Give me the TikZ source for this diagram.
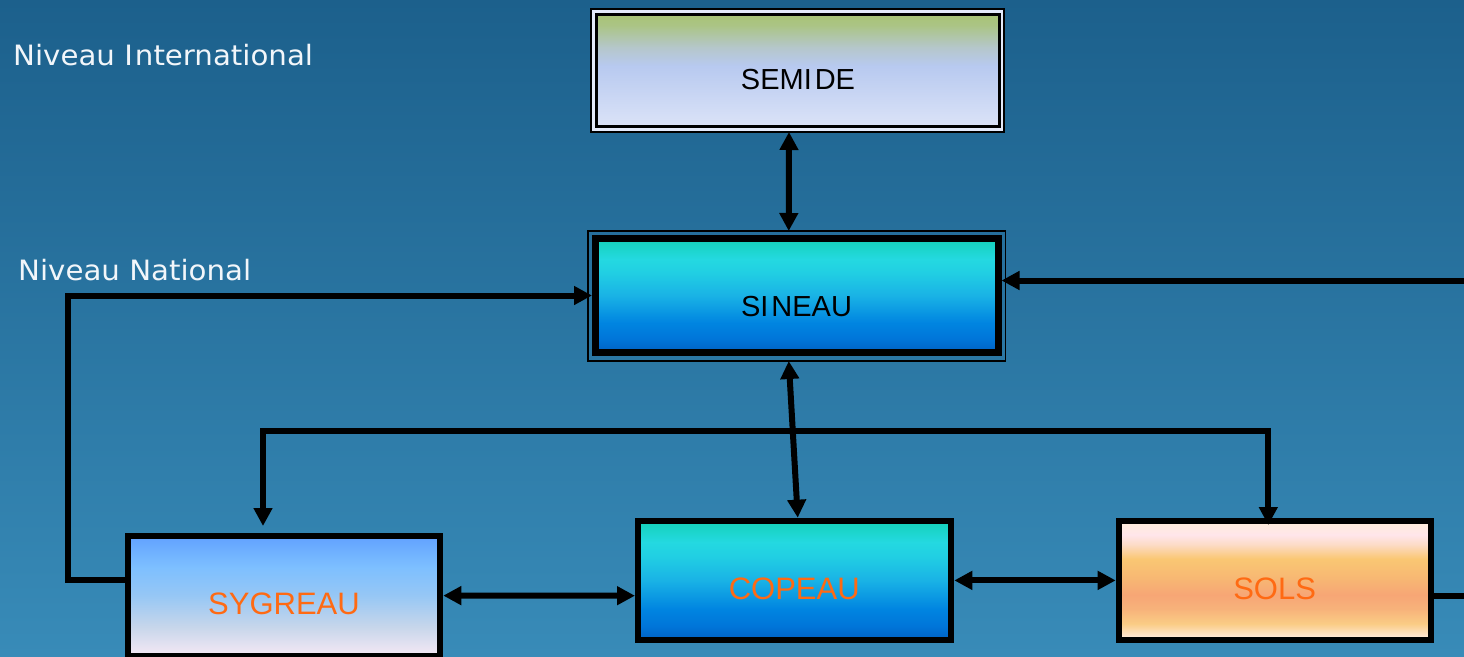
\documentclass[tikz,border=0pt]{standalone}
\usepackage{fontspec}
\setmainfont{Liberation Sans}
\newfontfamily\nivfont[FakeStretch=1.045]{DejaVu Sans}
\usetikzlibrary{arrows.meta}

\pgfdeclareverticalshading{blueshade}{100bp}{rgb(0bp)=(0,0.38,0.77); rgb(25bp)=(0,0.38,0.77); rgb(31bp)=(0,0.46,0.85); rgb(38bp)=(0,0.52,0.88); rgb(50bp)=(0.1,0.7,0.9); rgb(60bp)=(0.13,0.81,0.89); rgb(66bp)=(0.14,0.85,0.88); rgb(75bp)=(0.08,0.82,0.72); rgb(100bp)=(0.08,0.82,0.72)}
\pgfdeclareverticalshading{semideshade}{100bp}{rgb(0bp)=(0.86,0.89,0.97); rgb(25bp)=(0.86,0.89,0.97); rgb(52bp)=(0.72,0.79,0.94); rgb(60bp)=(0.71,0.78,0.8); rgb(70bp)=(0.67,0.77,0.52); rgb(75bp)=(0.66,0.77,0.46); rgb(100bp)=(0.66,0.77,0.46)}
\pgfdeclareverticalshading{sygshade}{100bp}{rgb(0bp)=(0.96,0.91,0.96); rgb(25bp)=(0.96,0.91,0.96); rgb(37bp)=(0.78,0.84,0.92); rgb(50bp)=(0.59,0.78,0.96); rgb(62bp)=(0.49,0.75,1); rgb(75bp)=(0.38,0.63,1); rgb(100bp)=(0.38,0.63,1)}
\pgfdeclareverticalshading{solshade}{100bp}{rgb(0bp)=(1,0.94,0.9); rgb(25bp)=(1,0.94,0.9); rgb(27bp)=(1,0.9,0.8); rgb(32bp)=(0.98,0.8,0.52); rgb(38bp)=(0.97,0.7,0.48); rgb(44bp)=(0.97,0.65,0.46); rgb(51bp)=(0.97,0.72,0.45); rgb(59bp)=(0.98,0.78,0.45); rgb(65bp)=(0.99,0.86,0.78); rgb(69bp)=(1,0.9,0.92); rgb(75bp)=(1,0.93,0.85); rgb(100bp)=(1,0.93,0.85)}

\definecolor{bgtop}{RGB}{28,96,140}
\definecolor{bgbot}{RGB}{56,139,184}
\definecolor{labelorange}{RGB}{255,106,19}
\definecolor{framefill}{RGB}{228,234,250}

\tikzset{
  box/.style={draw=black, inner sep=0pt, outer sep=0pt, text depth=0pt, text height=38pt},
  frame/.style={draw=black, inner sep=0pt, outer sep=0pt},
  smallcaps/.style={font=\fontsize{29}{32}\selectfont, text=black},
  bigcaps/.style={font=\fontsize{31}{34}\selectfont, text=labelorange},
  conn/.style={draw=black, line width=6pt},
  >={Triangle[length=18pt,width=18pt]},
  levellabel/.style={font=\nivfont\fontsize{28}{32}\selectfont, text={rgb,255:red,242;green,246;blue,250}, anchor=base west, inner sep=0pt}
}

\begin{document}
\begin{tikzpicture}[x=1pt,y=-1pt]
\useasboundingbox (0,0) rectangle (1464,656);
\fill[top color=bgtop, bottom color=bgbot] (0,0) rectangle (1464,656);

% frames
\node[frame, line width=2pt, fill=framefill, minimum width=413pt, minimum height=123.5pt] (semideframe) at (797,70.25) {};
\node[frame, line width=1.6pt, minimum width=417.5pt, minimum height=130pt] (sineauframe) at (796.75,296) {};

% boxes
\node[box, smallcaps, line width=3pt, shading=semideshade, minimum width=403pt, minimum height=112.5pt] (semide) at (798,70.25) {SEMI\kern3pt DE};
\node[box, smallcaps, line width=7pt, shading=blueshade, minimum width=403pt, minimum height=114pt, text height=41pt] (sineau) at (796.5,295.5) {SI\kern3pt NEAU};
\node[box, bigcaps, line width=6pt, shading=sygshade, minimum width=311.5pt, minimum height=119.8pt] (sygreau) at (284,595.6) {SYGREAU};
\node[box, bigcaps, line width=6pt, shading=blueshade, minimum width=312.5pt, minimum height=119.8pt] (copeau) at (794.25,580.4) {COPEAU};
\node[box, bigcaps, line width=6pt, shading=solshade, minimum width=311.8pt, minimum height=119.8pt] (sols) at (1274.6,580.4) {SOLS};

% coordinates
\coordinate (loopc) at (68,295.5);
\coordinate (bus) at (760,430.5);
\coordinate (rightin) at (1464,280.5);
\coordinate (rightout) at (1464,595.5);

% connectors
\draw[conn,<->] ([xshift=-8pt]semideframe.south) -- ([xshift=-8pt]sineauframe.north);
\draw[conn,<->] ([xshift=-8pt]sineauframe.south) -- ([xshift=3.5pt,yshift=2.8pt]copeau.north);
\draw[conn,<->] ([xshift=-21pt,yshift=9.7pt]sygreau.north) |- (bus) -| ([xshift=-6.3pt,yshift=-4.5pt]sols.north);
\draw[conn,->] ([yshift=15.3pt]sygreau.west) -| (loopc) |- ([xshift=-3pt]sineau.west);
\draw[conn,->] (rightin) -- ([xshift=3.5pt,yshift=15pt]sineau.east);
\draw[conn] ([yshift=-15.1pt]sols.east) -- (rightout);
\draw[conn,<->] ([xshift=3.5pt]sygreau.east) -- ([xshift=-3pt,yshift=-15.3pt]copeau.west);
\draw[conn,<->] ([xshift=3.8pt]copeau.east) -- ([xshift=-3pt]sols.west);

% level labels
\node[levellabel] (intl) at (13,65) {Niveau I\kern2pt nternational};
\node[levellabel] (natl) at (18,280) {Niveau National};
\end{tikzpicture}
\end{document}
